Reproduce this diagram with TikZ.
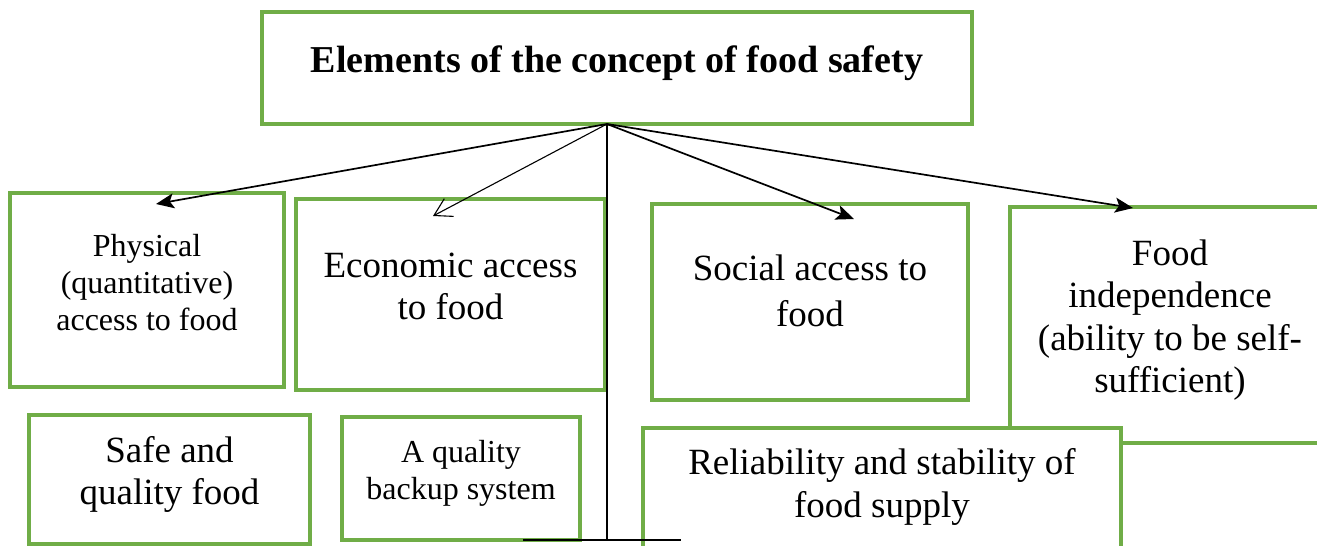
\documentclass[tikz,border=0pt]{standalone}
\usepackage{fontspec}
\setmainfont{Liberation Serif}
\usepackage{xcolor}
\definecolor{leaf}{RGB}{112,173,71}
\usetikzlibrary{arrows.meta,calc}

\tikzset{
  elem/.style={draw=leaf, line width=3.2pt, fill=white, anchor=north west,
               inner sep=0pt, outer sep=0pt},
  tag/.style={align=center, text=black, yshift=5pt,
              font=\fontsize{37}{42.5}\selectfont},
  smalltag/.style={tag, font=\fontsize{32}{37}\selectfont},
  headtag/.style={tag, font=\fontsize{38}{44}\selectfont\bfseries},
  stem/.style={line width=1.5pt},
  link/.style={line width=1.7pt, -{Stealth[length=18pt,width=15pt,inset=4pt]}},
  openlink/.style={line width=1.1pt, -{Straight Barb[length=17pt,width=20pt]}},
}

\begin{document}
\begin{tikzpicture}[x=1pt,y=-1pt]
  \useasboundingbox (0,0) rectangle (1317,546);

  % heading
  \node[elem, minimum width=710pt, minimum height=112pt,
        label={[headtag]center:Elements of the concept of food safety}]
       (title) at (262,12) {};

  % upper row of elements
  \node[elem, minimum width=274pt, minimum height=194pt,
        label={[smalltag,yshift=2pt]center:{Physical\\(quantitative)\\access to food}}]
       (phys) at (10,193) {};
  \node[elem, minimum width=309pt, minimum height=191pt,
        label={[tag,yshift=3pt]center:{Economic access\\to food}}]
       (econ) at (296,199) {};
  \node[elem, minimum width=316pt, minimum height=196pt,
        label={[tag,yshift=6pt,font=\fontsize{37}{46}\selectfont]center:{Social access to\\food}}]
       (social) at (652,204) {};
  \node[elem, minimum width=320pt, minimum height=236pt,
        label={[tag]center:{Food\\independence\\(ability to be self-\\sufficient)}}]
       (indep) at (1010,207) {};

  % lower row of elements
  \node[elem, minimum width=281pt, minimum height=129pt,
        label={[tag]center:{Safe and\\quality food}}]
       (safe) at (29,415) {};
  \node[elem, minimum width=238pt, minimum height=123pt,
        label={[smalltag]center:{A quality\\backup system}}]
       (backup) at (342,417) {};
  \node[elem, minimum width=478pt, minimum height=128pt,
        label={[tag]center:{Reliability and stability of\\food supply}}]
       (supply) at (643,428) {};

  % connectors
  \coordinate (hub) at ([xshift=-10pt]title.south);
  \coordinate (physTip) at (156,204);
  \coordinate (econTip) at (433,216);
  \coordinate (socialTip) at (854,219);
  \coordinate (indepTip) at (1133,208);
  \coordinate (baseL) at (523,540);
  \coordinate (baseR) at (681,540);

  \draw[stem] (hub) -- (hub |- baseL);
  \draw[stem] (baseL) -- (baseR);
  \draw[link] (hub) -- (physTip);
  \draw[openlink] (hub) -- (econTip);
  \draw[link] (hub) -- (socialTip);
  \draw[link] (hub) -- (indepTip);
\end{tikzpicture}
\end{document}
